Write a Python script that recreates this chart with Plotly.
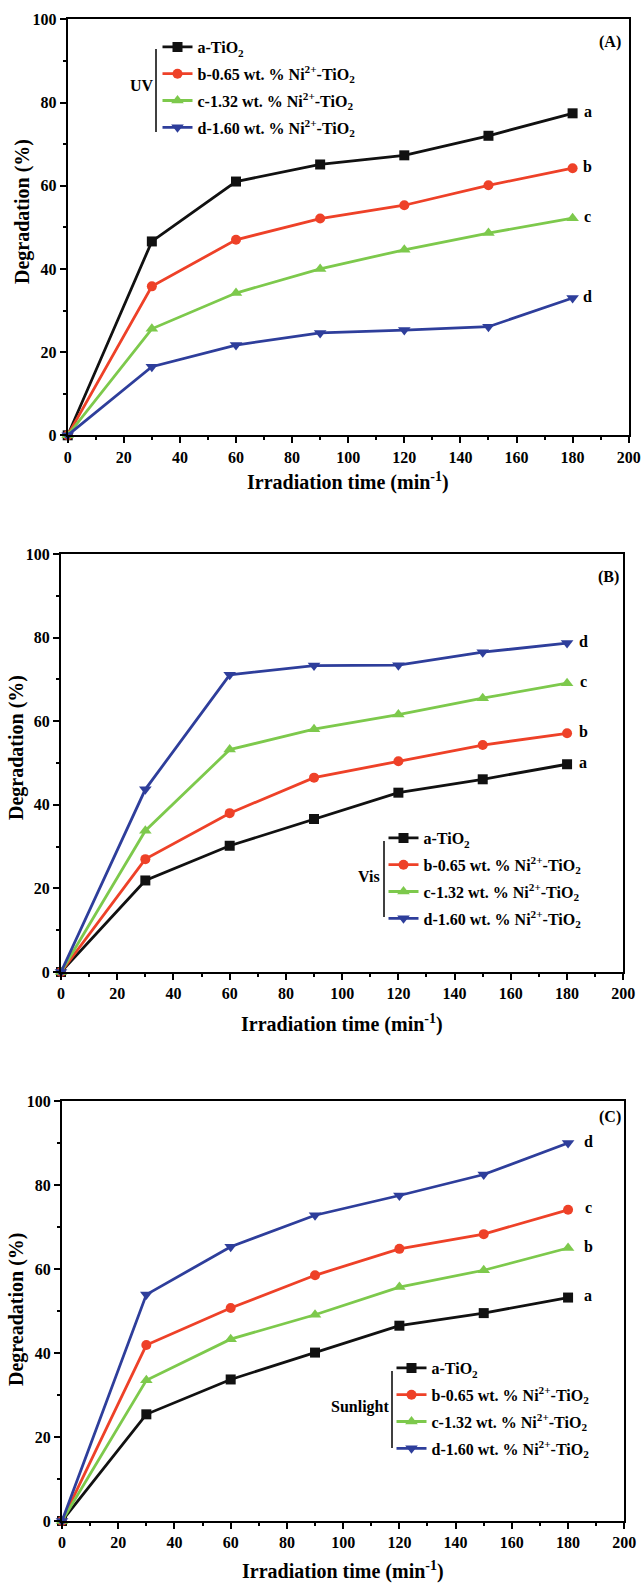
import plotly.graph_objects as go

W, H = 644, 1585

# Irradiation times (min)
time_min = [0, 30, 60, 90, 120, 150, 180]

# Degradation (%) under UV light
uv_a = [0, 46.6, 61.0, 65.1, 67.3, 72.0, 77.4]
uv_b = [0, 35.8, 47.0, 52.1, 55.3, 60.1, 64.2]
uv_c = [0, 25.6, 34.2, 40.0, 44.6, 48.6, 52.2]
uv_d = [0, 16.5, 21.7, 24.6, 25.3, 26.1, 33.0]

# Degradation (%) under visible light
vis_a = [0, 21.9, 30.2, 36.6, 42.9, 46.1, 49.7]
vis_b = [0, 27.0, 38.0, 46.5, 50.4, 54.3, 57.1]
vis_c = [0, 33.8, 53.2, 58.1, 61.6, 65.5, 69.1]
vis_d = [0, 43.7, 71.1, 73.3, 73.4, 76.5, 78.7]

# Degradation (%) under sunlight
sun_a = [0, 25.4, 33.7, 40.1, 46.5, 49.5, 53.2]
sun_b = [0, 41.9, 50.7, 58.5, 64.8, 68.3, 74.1]
sun_c = [0, 33.5, 43.3, 49.1, 55.7, 59.7, 65.0]
sun_d = [0, 53.9, 65.3, 72.8, 77.5, 82.5, 90.0]

series_names = [
    "a-TiO<sub>2</sub>",
    "b-0.65 wt. % Ni<sup>2+</sup>-TiO<sub>2</sub>",
    "c-1.32 wt. % Ni<sup>2+</sup>-TiO<sub>2</sub>",
    "d-1.60 wt. % Ni<sup>2+</sup>-TiO<sub>2</sub>",
]
end_labels_uv = ["a", "b", "c", "d"]
end_labels_vis = ["a", "b", "c", "d"]
end_labels_sun = ["a", "c", "b", "d"]

colors = ["#111111", "#EE4128", "#7DC94C", "#2E3E9B"]
symbols = ["square", "circle", "triangle-up", "triangle-down"]
marker_sizes = [10, 10, 11, 11]

FONT = "Liberation Serif"


def px(x):
    """pixel x -> paper fraction"""
    return x / W


def py(y):
    """pixel y (from top) -> paper fraction"""
    return 1 - y / H


panels = [
    dict(data=[uv_a, uv_b, uv_c, uv_d], labels=end_labels_uv, light="UV",
         tag="(A)", ytitle="Degradation (%)",
         xdom=(67.7, 628.7), ydom=(19.3, 435.3),
         legend_xy=(157.5, 30), bracket=(156, 49, 132), light_xy=(142, 85),
         tag_xy=(610, 42), xtitle_y=482, ytitle_xy=(22, 212), label_shift=15),
    dict(data=[vis_a, vis_b, vis_c, vis_d], labels=end_labels_vis, light="Vis",
         tag="(B)", ytitle="Degradation (%)",
         xdom=(61.0, 623.3), ydom=(554.0, 972.0),
         legend_xy=(383.5, 821), bracket=(384, 841, 917), light_xy=(369, 876),
         tag_xy=(608, 577), xtitle_y=1023, ytitle_xy=(16, 748), label_shift=16),
    dict(data=[sun_a, sun_b, sun_c, sun_d], labels=end_labels_sun, light="Sunlight",
         tag="(C)", ytitle="Degreadation (%)",
         xdom=(62.0, 624.3), ydom=(1101.0, 1521.0),
         legend_xy=(391.5, 1351), bracket=(392, 1371, 1448), light_xy=(360, 1407),
         tag_xy=(610, 1117), xtitle_y=1570, ytitle_xy=(16, 1309), label_shift=20),
]

fig = go.Figure()
annotations = []
shapes = []
layout = {}


def paper_text(x, y, text, size=16, angle=0):
    return dict(x=px(x), y=py(y), xref="paper", yref="paper",
                xanchor="center", yanchor="middle",
                text=text, showarrow=False, textangle=angle,
                font=dict(family=FONT, size=size, color="black"))


for p_i, p in enumerate(panels, start=1):
    sfx = "" if p_i == 1 else str(p_i)
    legend_name = "legend" if p_i == 1 else f"legend{p_i}"
    for s_i, (vals, name, col, sym, msz) in enumerate(
            zip(p["data"], series_names, colors, symbols, marker_sizes)):
        fig.add_trace(go.Scatter(
            x=time_min, y=vals, mode="lines+markers", name=name,
            line=dict(color=col, width=2.8),
            marker=dict(symbol=sym, size=msz, color=col),
            xaxis="x" + sfx, yaxis="y" + sfx, cliponaxis=False,
            legend=legend_name, legendgroup=f"{p_i}-{s_i}",
        ))
        annotations.append(dict(
            x=time_min[-1], y=vals[-1], xref="x" + sfx, yref="y" + sfx,
            xanchor="center", yanchor="middle",
            text=f"<b>{p['labels'][s_i]}</b>", showarrow=False,
            xshift=p["label_shift"], yshift=2,
            font=dict(family=FONT, size=16, color="black"),
        ))

    axis_common = dict(
        showline=True, linewidth=2.2, linecolor="black", mirror=True,
        ticks="outside", ticklen=6, tickwidth=2, tickcolor="black",
        showgrid=False, zeroline=False, automargin=False,
        tickfont=dict(family=FONT, size=16, color="black", weight="bold"),
        minor=dict(ticks="outside", ticklen=3, tickwidth=2, tickcolor="black", dtick=10),
    )
    layout["xaxis" + sfx] = dict(
        axis_common, domain=[px(p["xdom"][0]), px(p["xdom"][1])],
        range=[0, 200], dtick=20, tick0=0, anchor="y" + sfx,
    )
    layout["yaxis" + sfx] = dict(
        axis_common, domain=[py(p["ydom"][1]), py(p["ydom"][0])],
        range=[0, 100], dtick=20, tick0=0, anchor="x" + sfx,
    )
    layout[legend_name] = dict(
        x=px(p["legend_xy"][0]), y=py(p["legend_xy"][1]),
        xanchor="left", yanchor="top", bgcolor="rgba(0,0,0,0)",
        font=dict(family=FONT, size=16, color="black", weight="bold"),
        tracegroupgap=3, itemwidth=30,
    )

    bx, by0, by1 = p["bracket"]
    shapes.append(dict(type="line", xref="paper", yref="paper",
                       x0=px(bx), x1=px(bx), y0=py(by0), y1=py(by1),
                       line=dict(color="black", width=1.5)))

    annotations += [
        paper_text(*p["light_xy"], f"<b>{p['light']}</b>"),
        paper_text(*p["tag_xy"], f"<b>{p['tag']}</b>"),
        paper_text((p["xdom"][0] + p["xdom"][1]) / 2, p["xtitle_y"],
                   "<b>Irradiation time (min<sup>-1</sup>)</b>", size=20),
        paper_text(*p["ytitle_xy"], f"<b>{p['ytitle']}</b>", size=20, angle=-90),
    ]

fig.update_layout(
    width=W, height=H,
    # fixed frame: no automatic margin growth from legends or tick labels
    margin=dict(l=0, r=0, t=0, b=0, autoexpand=False),
    paper_bgcolor="white", plot_bgcolor="white",
    showlegend=True,
    annotations=annotations, shapes=shapes,
    **layout,
)

fig.write_html("out.html")
